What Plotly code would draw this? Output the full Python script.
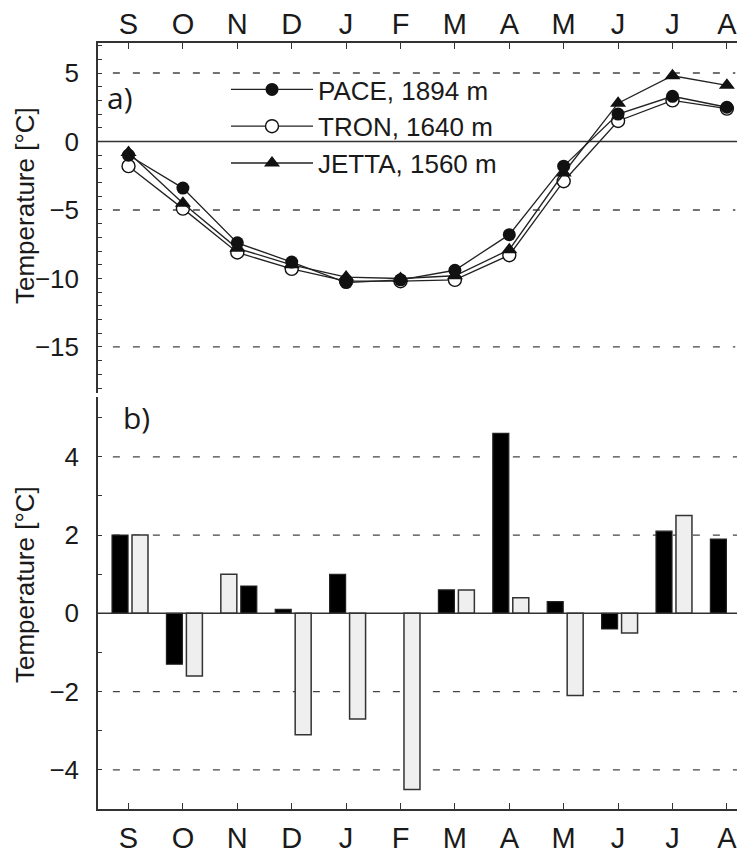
import plotly.graph_objects as go

months = ['S', 'O', 'N', 'D', 'J', 'F', 'M', 'A', 'M', 'J', 'J', 'A']
x_idx = list(range(len(months)))

# Panel a) monthly mean temperature [°C]
pace = [-1.0, -3.4, -7.4, -8.8, -10.3, -10.1, -9.4, -6.8, -1.8, 2.0, 3.3, 2.5]
tron = [-1.8, -4.9, -8.1, -9.3, -10.2, -10.2, -10.1, -8.3, -2.9, 1.5, 3.0, 2.4]
jetta = [-0.8, -4.5, -7.8, -9.0, -9.9, -10.0, -9.8, -7.9, -2.3, 2.8, 4.8, 4.1]

# Panel b) anomalies [°C]
black_vals = [2.0, -1.3, 0.7, 0.1, 1.0, None, 0.6, 4.6, 0.3, -0.4, 2.1, 1.9]
gray_vals = [2.0, -1.6, 1.0, -3.1, -2.7, -4.5, 0.6, 0.4, -2.1, -0.5, 2.5, None]

top_grid = [5, -5, -15]
bot_grid = [4, 2, -2, -4]

FONT = 'Liberation Sans, Arial, sans-serif'
TXT = '#1a1a1a'
AX = '#333333'

# The page body has an 8px default margin, so the figure is drawn 8px smaller
# and every layout position below is given in page pixels minus that offset.
OFF = 8
W, H = 745 - OFF, 854 - OFF
L, R, T = 98 - OFF, 0, 43 - OFF
B = H - (809 - OFF)
PW = W - L - R
PH = H - T - B


def fx(px):
    return (px - OFF - L) / PW


def fy(py):
    return (H - B - (py - OFF)) / PH


top_dom = [fy(393), 1.0]
bot_dom = [0.0, fy(397)]

fig = go.Figure()

line_style = dict(color='#222222', width=1.3)
fig.add_trace(go.Scatter(x=x_idx, y=tron, mode='lines+markers', name='TRON, 1640 m',
                         line=line_style,
                         marker=dict(symbol='circle', size=13, color='white',
                                     line=dict(color='#111111', width=1.4)),
                         xaxis='x', yaxis='y', legendrank=2))
fig.add_trace(go.Scatter(x=x_idx, y=jetta, mode='lines+markers', name='JETTA, 1560 m',
                         line=line_style,
                         marker=dict(symbol='triangle-up', size=14, color='#111111'),
                         xaxis='x', yaxis='y', legendrank=3))
fig.add_trace(go.Scatter(x=x_idx, y=pace, mode='lines+markers', name='PACE, 1894 m',
                         line=line_style,
                         marker=dict(symbol='circle', size=13, color='#111111'),
                         xaxis='x', yaxis='y', legendrank=1))

LEFT_OFF, RIGHT_OFF, BW = -0.303, 0.064, 0.294
swapped = [i == 2 for i in x_idx]
black_off = [RIGHT_OFF if s else LEFT_OFF for s in swapped]
gray_off = [LEFT_OFF if s else RIGHT_OFF for s in swapped]

fig.add_trace(go.Bar(x=x_idx, y=black_vals, offset=black_off, width=BW,
                     marker=dict(color='#000000', line=dict(color='#222222', width=1.2)),
                     xaxis='x2', yaxis='y2', showlegend=False))
fig.add_trace(go.Bar(x=x_idx, y=gray_vals, offset=gray_off, width=BW,
                     marker=dict(color='#efefef', line=dict(color='#333333', width=1.5)),
                     xaxis='x2', yaxis='y2', showlegend=False))
# invisible trace to carry the right-hand tick axis of panel b
fig.add_trace(go.Scatter(x=[0], y=[0], mode='markers', marker=dict(opacity=0),
                         xaxis='x2', yaxis='y3', showlegend=False, hoverinfo='skip'))

shapes = []
for v in top_grid:
    shapes.append(dict(type='line', xref='x domain', yref='y', x0=0.023, x1=0.985, y0=v, y1=v,
                       line=dict(color='#444444', width=1.3, dash='7px,13px'), layer='below'))
shapes.append(dict(type='line', xref='x domain', yref='y', x0=0, x1=1, y0=0, y1=0,
                   line=dict(color=AX, width=1.5), layer='below'))
for v in bot_grid:
    shapes.append(dict(type='line', xref='x2 domain', yref='y2', x0=0.023, x1=1, y0=v, y1=v,
                       line=dict(color='#444444', width=1.3, dash='7px,13px'), layer='below'))
shapes.append(dict(type='line', xref='x2 domain', yref='y2', x0=0, x1=1, y0=0, y1=0,
                   line=dict(color=AX, width=1.5), layer='above'))

xr = [-0.561, 11.333]
xcommon = dict(range=xr, tickvals=x_idx, ticktext=months, showline=True, linecolor=AX,
               linewidth=1.5, ticks='inside', ticklen=6, tickcolor=AX, tickwidth=1.3,
               showgrid=False, zeroline=False, automargin=False,
               tickfont=dict(size=29, color=TXT, family=FONT))
ycommon = dict(showline=True, linecolor=AX, linewidth=1.5, ticks='inside', ticklen=4,
               tickcolor=AX, tickwidth=1.3, showgrid=False, zeroline=False, automargin=False,
               ticklabelstandoff=12,
               tickfont=dict(size=26, color=TXT, family=FONT),
               minor=dict(ticks='inside', ticklen=4, dtick=1, tick0=0, tickcolor=AX, showgrid=False))

fig.update_layout(
    width=W, height=H,
    margin=dict(l=L, r=R, t=T, b=B, autoexpand=False),
    paper_bgcolor='white', plot_bgcolor='white',
    font=dict(family=FONT, color=TXT),
    barmode='overlay',
    showlegend=True,
    legend=dict(x=fx(226), y=fy(66), xanchor='left', yanchor='top',
                font=dict(size=26, color=TXT, family=FONT), bgcolor='rgba(0,0,0,0)',
                traceorder='normal', itemwidth=82),
    xaxis=dict(anchor='y', side='top', ticklabelstandoff=-4, **xcommon),
    xaxis2=dict(anchor='y2', side='bottom', ticklabelstandoff=2, **xcommon),
    yaxis=dict(domain=top_dom, anchor='x', range=[-18.36, 7.19], tickvals=[-15, -10, -5, 0, 5],
               **ycommon),
    yaxis2=dict(domain=bot_dom, anchor='x2', range=[-5.0, 5.53], tickvals=[-4, -2, 0, 2, 4],
                **ycommon),
    yaxis3=dict(overlaying='y2', anchor='x2', side='right', range=[-5.0, 5.53],
                tickvals=[-5, -4, -3, -2, -1, 0, 1, 2, 3, 4, 5], ticks='inside', ticklen=4,
                tickcolor=AX, showticklabels=False, showline=False, showgrid=False,
                zeroline=False, automargin=False),
    shapes=shapes,
    annotations=[
        dict(text='Temperature [°C]', textangle=-90, xref='paper', yref='paper',
             x=fx(25), y=fy(206), showarrow=False,
             font=dict(size=26, color=TXT, family=FONT), xanchor='center', yanchor='middle'),
        dict(text='Temperature [°C]', textangle=-90, xref='paper', yref='paper',
             x=fx(25), y=fy(585), showarrow=False,
             font=dict(size=26, color=TXT, family=FONT), xanchor='center', yanchor='middle'),
        dict(text='a)', xref='paper', yref='paper', x=fx(105),
             y=fy(98), showarrow=False, xanchor='left', yanchor='middle',
             font=dict(size=30, color=TXT, family='Open Sans, sans-serif')),
        dict(text='b)', xref='paper', yref='paper', x=fx(121),
             y=fy(417), showarrow=False, xanchor='left', yanchor='middle',
             font=dict(size=30, color=TXT, family='Open Sans, sans-serif')),
    ],
)

fig.write_html('out.html')
